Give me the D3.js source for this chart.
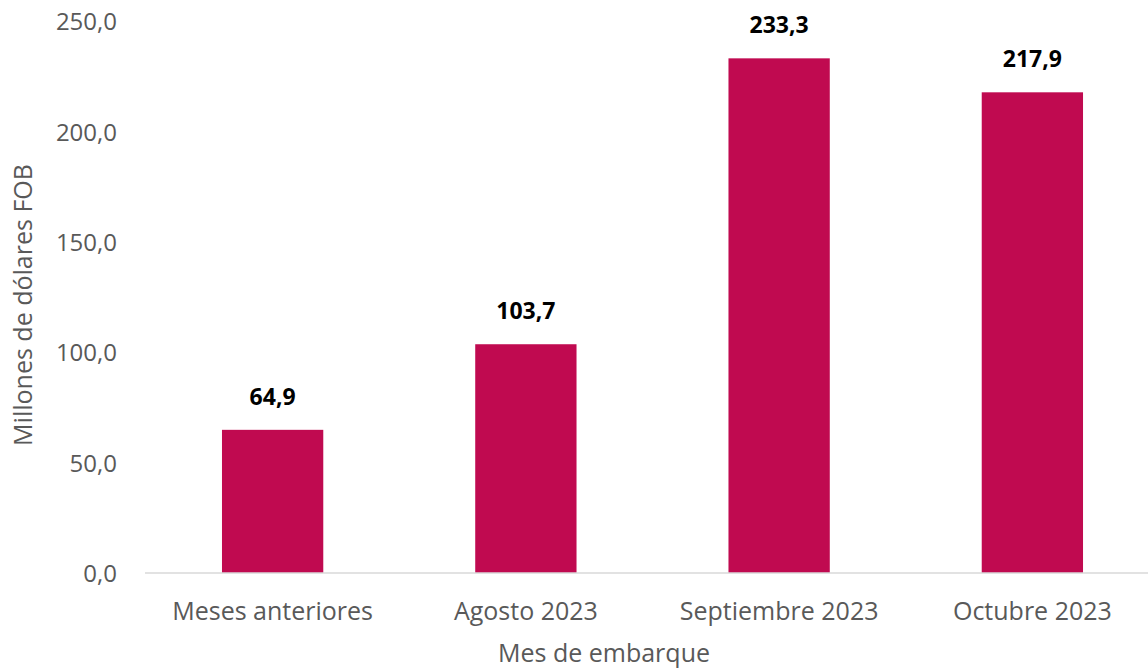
<!DOCTYPE html>
<html>
<head>
<meta charset="utf-8">
<script src="https://cdn.jsdelivr.net/npm/d3@7"></script>
<style>
  html, body { margin: 0; padding: 0; background: #fff; }
  svg { display: block; }
  text { font-family: "Open Sans", "Noto Sans", sans-serif; }
</style>
</head>
<body>
<svg id="chart" width="1148" height="671"></svg>
<script>
const categories = ["Meses anteriores", "Agosto 2023", "Septiembre 2023", "Octubre 2023"];
const values = [64.9, 103.7, 233.3, 217.9];
const yTicks = [0, 50, 100, 150, 200, 250];
const yTitle = "Millones de dólares FOB";
const xTitle = "Mes de embarque";

const svg = d3.select("#chart");
const fmt = v => d3.format(".1f")(v).replace(".", ",");

const x = d3.scaleBand().domain(categories).range([146, 1159]).paddingInner(0.6).paddingOuter(0.3);
const y = d3.scaleLinear().domain([0, 250]).range([573, 21.5]);

// y axis tick labels
const yAxis = d3.axisLeft(y).tickValues(yTicks).tickFormat(fmt).tickSize(0).tickPadding(0);
const gy = svg.append("g").attr("transform", "translate(117,0)").call(yAxis);
gy.select(".domain").remove();
gy.selectAll("text").attr("font-size", 24).attr("fill", "#595959").attr("dy", "0.35em");

// bars
svg.append("g").selectAll("rect").data(values).join("rect")
  .attr("x", (d, i) => x(categories[i]))
  .attr("width", x.bandwidth())
  .attr("y", d => y(d))
  .attr("height", d => y(0) - y(d))
  .attr("fill", "#C00A50");

// x axis
const xAxis = d3.axisBottom(x).tickSize(0).tickPadding(0);
const gx = svg.append("g").attr("transform", `translate(0,${y(0)})`).call(xAxis);
gx.select(".domain").attr("stroke", "#d9d9d9").attr("stroke-width", 1.5).attr("d", "M145,0H1148");
gx.selectAll("text").attr("font-size", 25).attr("fill", "#595959").attr("y", 47).attr("dy", 0);

// value labels
svg.append("g").selectAll("text").data(values).join("text")
  .attr("x", (d, i) => x(categories[i]) + x.bandwidth() / 2)
  .attr("y", d => y(d) - 25)
  .attr("text-anchor", "middle")
  .attr("font-size", 23)
  .attr("font-weight", "bold")
  .attr("fill", "#000")
  .text(fmt);

// axis titles
svg.append("text")
  .attr("transform", "translate(32,305) rotate(-90)")
  .attr("text-anchor", "middle")
  .attr("font-size", 25)
  .attr("fill", "#595959")
  .text(yTitle);

svg.append("text")
  .attr("x", 604).attr("y", 662)
  .attr("text-anchor", "middle")
  .attr("font-size", 25)
  .attr("fill", "#595959")
  .text(xTitle);
</script>
</body>
</html>
